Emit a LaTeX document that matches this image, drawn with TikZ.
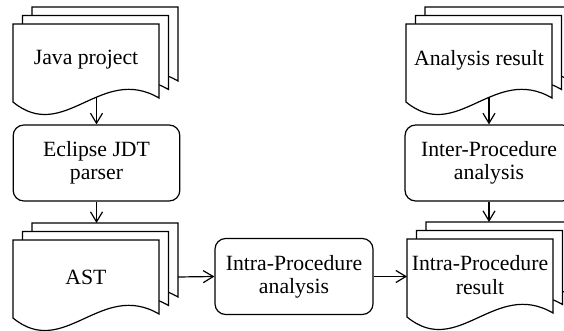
\documentclass[tikz,border=0pt]{standalone}
\usepackage{fontspec}
\setmainfont{Liberation Serif}
\usetikzlibrary{positioning, arrows.meta}

\tikzset{
    % one sheet of a document stack, top left corner at the origin
    page/.pic={
        \draw[fill=white] (0, 0) -- (146, 0) -- (146, 74)
        .. controls (88, 40) and (51, 120) .. (0, 78) -- cycle;
    },
    label/.style={align=center, font=\fontsize{16.3}{17.5}\selectfont},
    procbox/.style={label, draw, rounded corners=8pt, minimum height=57pt},
    flow/.style={-{Straight Barb[length=7.5pt, width=9pt]}},
}

\begin{document}
\begin{tikzpicture}[x=0.75pt, y=-0.75pt, line width=0.9pt]
        \useasboundingbox (0, 0) rectangle (564, 331);

        % 文档堆叠
        \foreach \x/\y in {13/24, 13/240, 406/24, 407/239} {
            \foreach \k in {2, 1, 0}
                \pic at (\x + 9.5*\k, \y - 8.5*\k) {page};
        }

        % 文档文字
        \node[label] (java) at (86, 60) {Java project};
        \node[label] (ast) at (86, 277) {AST};
        \node[label] (anres) at (479, 60) {Analysis result};
        \node[label] (intrares) at (480, 275) {Intra-Procedure\\result};

        % 处理步骤
        \node[procbox, minimum width=125pt] (eclipse) at (96.5, 163) {Eclipse JDT\\parser};
        \node[procbox, minimum width=118.5pt] (intra) at (294, 276.5) {Intra-Procedure\\analysis};
        \node[procbox, minimum width=126pt] (inter) at (489, 163) {Inter-Procedure\\analysis};

        % 堆叠上的连接点
        \coordinate (java-out) at (96.5, 97);
        \coordinate (ast-in) at (96.5, 223);
        \coordinate (ast-out) at (178, 277);
        \coordinate (anres-out) at (489, 97);
        \coordinate (intrares-top) at (489, 222);
        \coordinate (intrares-in) at (407, 276.5);

        % 箭头
        \draw[flow] (java-out) -- (eclipse.north);
        \draw[flow] (eclipse.south) -- (ast-in);
        \draw[flow] (ast-out) -- (intra.west);
        \draw[flow] (intra.east) -- (intrares-in);
        \draw[flow] (anres-out) -- (inter.north);
        \draw[flow] (inter.south) -- (intrares-top);
    \end{tikzpicture}
\end{document}
